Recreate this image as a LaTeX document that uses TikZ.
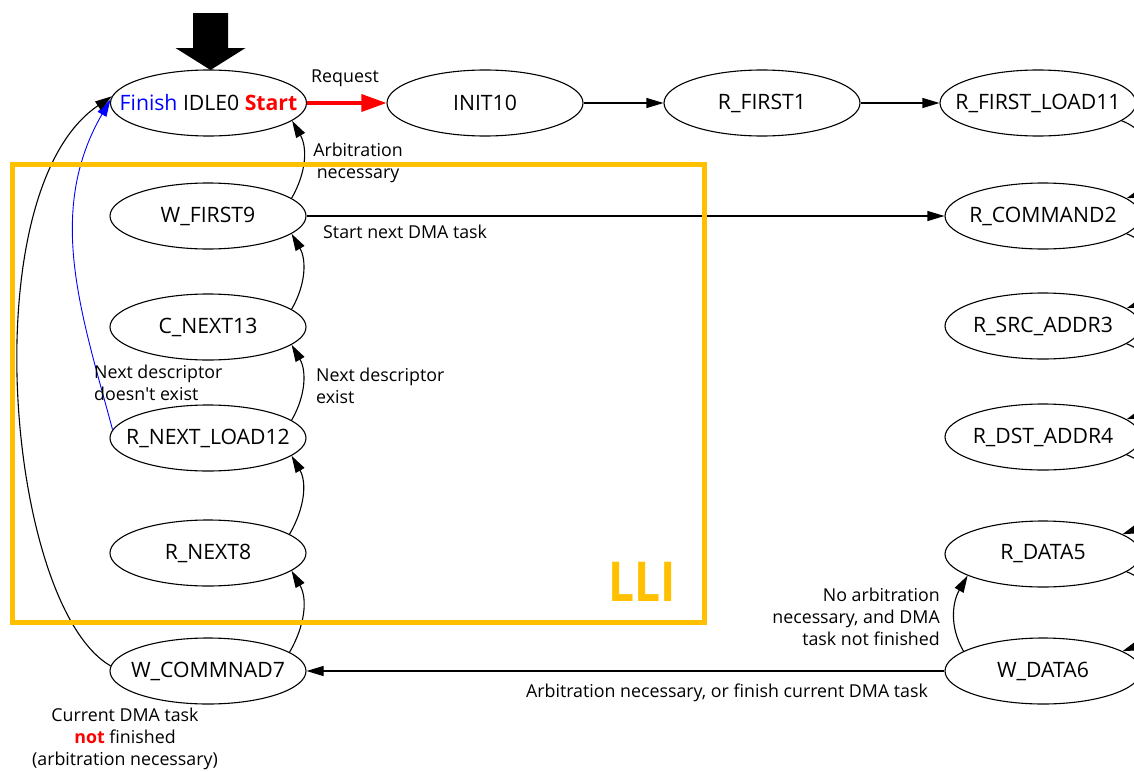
\documentclass[tikz,border=0pt]{standalone}
\usepackage{fontspec}
\setmainfont{Open Sans}
\usetikzlibrary{arrows.meta,shapes.geometric}
\definecolor{lli}{HTML}{FFC000}
\definecolor{myblue}{HTML}{0000FF}
\definecolor{myred}{HTML}{FF0000}
\newcommand\stt[1]{\makebox[0pt][c]{#1}}
\begin{document}
\begin{tikzpicture}[x=1pt,y=1pt,
  state/.style={ellipse,draw,line width=1.1pt,minimum width=196pt,minimum height=66pt,inner sep=0pt,font=\fontsize{21.2}{24}\selectfont},
  lbl/.style={inner sep=0pt,font=\fontsize{17.8}{22}\selectfont},
  arr/.style={line width=1.1pt,-{Triangle[length=17pt,width=10pt]}},
]
\useasboundingbox (0,-771) rectangle (1134,0);
\clip (0,-771) rectangle (1134,0);

% states
\node[state] (idle) at (208.5,-103) {\stt{\textcolor{myblue}{Finish} IDLE0 \textcolor{myred}{\bfseries Start}}};
\node[state] (init) at (485,-103) {\stt{INIT10}};
\node[state] (rf1)  at (762,-103) {\stt{R\_FIRST1}};
\node[state] (rfl)  at (1038,-103) {\stt{R\_FIRST\_LOAD11}};
\node[state] (rc2)  at (1043,-216) {\stt{R\_COMMAND2}};
\node[state] (rs3)  at (1043,-326) {\stt{R\_SRC\_ADDR3}};
\node[state] (rd4)  at (1043,-437) {\stt{R\_DST\_ADDR4}};
\node[state] (rd5)  at (1043,-554) {\stt{R\_DATA5}};
\node[state] (wd6)  at (1043,-671) {\stt{W\_DATA6}};
\node[state] (w9)   at (208,-216) {\stt{W\_FIRST9}};
\node[state] (c13)  at (208,-327) {\stt{C\_NEXT13}};
\node[state] (rnl)  at (208,-438) {\stt{R\_NEXT\_LOAD12}};
\node[state] (rn8)  at (208,-553) {\stt{R\_NEXT8}};
\node[state] (wc7)  at (208,-671) {\stt{W\_COMMNAD7}};

% initial big arrow
\coordinate (tip) at (210.5,-70);
\fill (tip) -- ++(-35,22) -- ++(17.5,0) -- ++(0,35) -- ++(35,0) -- ++(0,-35) -- ++(17.5,0) -- cycle;

% top row
\draw[myred,line width=3.4pt,-{Triangle[length=25pt,width=17pt]}] (idle) -- (init);
\draw[arr] (init) -- (rf1);
\draw[arr] (rf1) -- (rfl);

% right column
\draw[arr] (rfl.-12) to[out=-20,in=20,looseness=1.3] (rc2.12);
\draw[arr] (rc2.-12) to[out=-20,in=20,looseness=1.3] (rs3.12);
\draw[arr] (rs3.-12) to[out=-20,in=20,looseness=1.3] (rd4.12);
\draw[arr] (rd4.-12) to[out=-20,in=20,looseness=1.3] (rd5.14);
\draw[arr] (rd5.-12) to[out=-20,in=20,looseness=1.3] (wd6.14);
\draw[arr] (wd6.166) to[out=120,in=-120] (rd5.-164);
\draw[arr] (wd6) -- (wc7);

% left column
\draw[arr] (wc7.13) to[out=60,in=-60] (rn8.-12);
\draw[arr] (rn8.13) to[out=60,in=-60] (rnl.-12);
\draw[arr] (rnl.12) to[out=60,in=-60] (c13.-12);
\draw[arr] (c13.12) to[out=60,in=-60] (w9.-12);
\draw[arr] (w9.12) to[out=60,in=-60] (idle.-12);
\draw[arr] (w9) -- (rc2);
\draw[arr,myblue,line width=0.9pt] (rnl.175) to[out=105,in=-120,out distance=120,in distance=130] (idle.178);
\draw[arr] (wc7.177) to[out=150,in=-146,out distance=120,in distance=170] (idle.176);

% labels
\node[lbl] (lreq) at (345,-78) {Request};
\node[lbl,align=center] (larb) at (358,-163) {Arbitration\\necessary};
\node[lbl,anchor=west] (lstart) at (323,-232) {Start next DMA task};
\node[lbl,anchor=west,align=left] (lnde) at (316,-386) {Next descriptor\\exist};
\node[lbl,anchor=west,align=left] (lndn) at (94,-383) {Next descriptor\\doesn\textquotesingle t exist};
\node[lbl,anchor=east,align=right] (lnoarb) at (940,-617) {No arbitration\\necessary, and DMA\\task not finished};
\node[lbl] (larbfin) at (727,-693) {Arbitration necessary, or finish current DMA task};
\node[lbl,align=center] (lcur) at (125,-739) {Current DMA task\\\textcolor{myred}{\bfseries not} finished\\(arbitration necessary)};

% LLI box
\draw[lli,line width=4.5pt] (12.5,-164.5) rectangle (704.5,-622.5);
\node[inner sep=0pt,anchor=south east,text=lli,font=\bfseries\fontsize{55}{55}\selectfont,xscale=0.84,transform shape] (llit) at (676,-602) {LLI};
\end{tikzpicture}
\end{document}
